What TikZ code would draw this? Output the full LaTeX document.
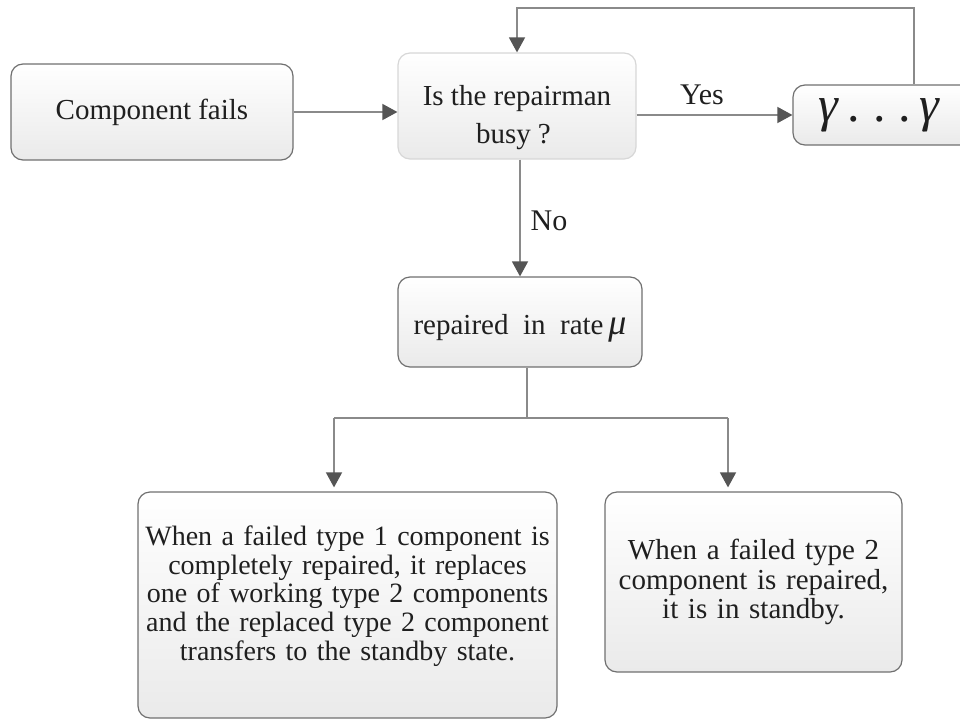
\documentclass[tikz,border=0pt]{standalone}
\usepackage{fontspec}
\setmainfont{Liberation Serif}
\usetikzlibrary{arrows.meta}
\definecolor{boxline}{RGB}{112,112,112}
\definecolor{faintline}{RGB}{215,215,215}
\definecolor{conn}{RGB}{138,138,138}
\definecolor{tipc}{RGB}{85,85,85}
\definecolor{shadebot}{RGB}{234,234,234}
\begin{document}
\begin{tikzpicture}[x=1pt,y=-1pt,
  box/.style={draw=boxline, line width=1.2pt, rounded corners=12pt,
    top color=white, bottom color=shadebot, align=center,
    font=\fontsize{29}{29}\selectfont, text=black!88},
  conline/.style={draw=conn, line width=1.5pt},
  arr/.style={conline, -{Triangle[length=15pt,width=16pt,color=tipc]}},
  lbl/.style={font=\fontsize{30}{30}\selectfont, text=black!88}]
\useasboundingbox (0,0) rectangle (960,720);
\clip (0,0) rectangle (960,720);

\node[box, minimum width=282pt, minimum height=96pt] (A) at (152,112) {Component fails};
\node[box, draw=faintline, minimum width=238pt, minimum height=106pt,
  font=\fontsize{29}{38}\selectfont] (B) at (517,106)
  {\rule{0pt}{44pt}Is the repairman\\busy\kern7pt?\kern7pt};
\node[box, minimum width=204pt, minimum height=60pt, text width=160pt,
  inner xsep=25pt, align=left, font=\fontsize{50}{50}\selectfont] (C) at (898,115)
  {\textit{γ}\kern9pt.\kern13pt.\kern13pt.\kern8pt\textit{γ}};
\node[box, minimum width=244pt, minimum height=90pt] (D) at (520,322)
  {\rule{0pt}{32pt}repaired\ \ in\ \ rate\,{\fontsize{36}{36}\selectfont\textit{μ}}};
\node[box, minimum width=419pt, minimum height=226pt, text width=419pt, inner xsep=0pt,
  font=\fontsize{28}{28.7}\selectfont] (E) at (347.5,605)
  {When a failed type 1 component is\\completely repaired, it replaces\\one of working type 2 components\\and the replaced type 2 component\\transfers to the standby state.\rule[-24pt]{0pt}{1pt}};
\node[box, minimum width=297pt, minimum height=180pt, text width=290pt,
  font=\fontsize{29}{29.5}\selectfont] (F) at (753.5,582)
  {When a failed type 2\\component is repaired,\\it is in standby.};

% connectors
\draw[arr] (A.east) -- (A.east -| B.west);
\draw[arr] (B.east |- C.west) -- (C.west);
\node[lbl] (yes) at (702,95) {Yes};
\draw[arr] (B.south -| D.north) -- (D.north);
\node[lbl] (no) at (549,221) {No};
\coordinate (fb) at (914,8);
\draw[arr] (fb |- C.north) -- (fb) -| (B.north);
\coordinate (split) at (527,418);
\coordinate (L) at (334,418);
\coordinate (R) at (728,418);
\draw[conline] (D.south -| split) -- (split);
\draw[conline] (L) -- (R);
\draw[arr, shorten >=4pt] (L) -- (L |- E.north);
\draw[arr, shorten >=4pt] (R) -- (R |- F.north);
\end{tikzpicture}
\end{document}
